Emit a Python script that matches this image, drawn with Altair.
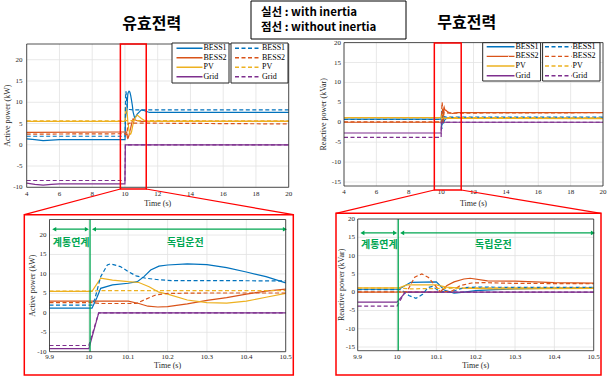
import altair as alt
import pandas as pd

# ---------------- data ----------------
SERIES = ["BESS1", "BESS2", "PV", "Grid"]
COLORS = ["#0072BD", "#D95319", "#EDB120", "#7E2F8E"]

X_TICKS_WIDE = [4, 6, 8, 10, 12, 14, 16, 18, 20]
X_LABELS_WIDE = ["4", "6", "8", "10", "12", "14", "16", "18", "20"]
X_TICKS_ZOOM = [9.9, 10.0, 10.1, 10.2, 10.3, 10.4, 10.5]
X_LABELS_ZOOM = ["9.9", "10", "10.1", "10.2", "10.3", "10.4", "10.5"]
Y_TICKS_P = [-10, -5, 0, 5, 10, 15, 20]
Y_LABELS_P = ["-10", "-5", "0", "5", "10", "15", "20"]
Y_TICKS_Q = [-15, -10, -5, 0, 5, 10, 15, 20]
Y_LABELS_Q = ["-15", "-10", "-5", "0", "5", "10", "15", "20"]

X_DOM_WIDE = [4, 20]
X_DOM_ZOOM = [9.9, 10.5]
Y_DOM_P_WIDE = [-10, 23.7]
Y_DOM_P_ZOOM = [-10, 24]
Y_DOM_Q = [-16, 20]

# Active power (kW) -- solid: with inertia, dashed: without inertia
p_bess1_t = [4, 4.5, 5, 5.5, 6, 9.9, 10.008, 10.02, 10.03, 10.06, 10.1, 10.123, 10.14, 10.157, 10.178,
             10.2, 10.25, 10.3, 10.35, 10.4, 10.45, 10.5, 10.6, 10.75, 11.0, 11.2, 11.5, 20]
p_bess1 = [1.4, 1.2, 1.0, 1.1, 1.2, 1.2, 1.2, 3.8, 6.3, 7.2, 7.6, 8.0, 9.3, 11.0, 12.0,
           12.3, 12.6, 12.4, 11.6, 10.5, 9.3, 7.7, 6.2, 7.2, 8.2, 8.0, 7.6, 7.6]
p_bess1_d_t = [4, 9.9, 10.008, 10.015, 10.03, 10.047, 10.055, 10.08, 10.1, 10.12, 10.144, 10.178, 10.21, 10.3, 10.5, 20]
p_bess1_d = [2.0, 2.0, 2.0, 3.5, 9.3, 12.3, 12.6, 11.9, 10.6, 9.5, 8.9, 8.5, 8.3, 8.3, 8.2, 8.2]
p_bess2_t = [4, 9.9, 10.1, 10.127, 10.15, 10.175, 10.2, 10.25, 10.3, 10.35, 10.4, 10.45, 10.5, 10.7, 11.0, 20]
p_bess2 = [2.9, 3.0, 3.0, 2.4, 1.7, 1.5, 1.6, 2.3, 3.2, 3.9, 4.8, 5.6, 6.1, 5.7, 5.5, 5.5]
p_bess2_d_t = [4, 9.9, 10.01, 10.03, 10.12, 10.17, 10.2, 10.3, 10.5, 20]
p_bess2_d = [2.5, 2.6, 2.6, 2.4, 2.4, 4.6, 5.0, 5.1, 5.1, 4.9]
p_pv_t = [4, 9.9, 10.008, 10.03, 10.06, 10.1, 10.127, 10.153, 10.178, 10.2, 10.25, 10.3, 10.35, 10.4, 10.45,
          10.5, 10.6, 10.75, 11.0, 11.3, 20]
p_pv = [5.5, 5.5, 5.5, 8.9, 8.4, 8.0, 7.8, 6.7, 5.3, 4.8, 3.3, 2.6, 2.5, 3.0, 4.0,
        5.0, 6.2, 7.0, 6.2, 5.5, 5.5]
p_pv_d_t = [4, 9.9, 10.01, 10.03, 10.5, 20]
p_pv_d = [5.6, 5.6, 5.6, 5.7, 5.7, 5.6]
p_grid_t = [4, 4.5, 5, 5.5, 6, 9.9, 10.0, 10.025, 10.5, 20]
p_grid = [-9.0, -9.3, -9.5, -9.3, -9.2, -9.2, -9.2, 0.0, 0.0, 0.0]
p_grid_d_t = [4, 9.9, 10.0, 10.025, 10.5, 20]
p_grid_d = [-8.4, -8.4, -8.4, 0.0, 0.0, 0.0]

# Reactive power (kVar)
q_bess1_t = [4, 9.9, 10.005, 10.035, 10.1, 10.12, 10.145, 10.17, 10.2, 10.25, 10.3, 10.4, 10.5, 11.0, 20]
q_bess1 = [0.8, 0.8, 0.8, 2.7, 2.8, 0.6, -0.3, 0.0, 0.4, 0.7, 0.9, 1.1, 1.2, 1.1, 1.0]
q_bess1_d_t = [4, 9.9, 10.01, 10.03, 10.048, 10.065, 10.078, 10.09, 10.11, 10.14, 10.17, 10.2, 10.3, 10.5, 20]
q_bess1_d = [0.7, 0.7, 0.7, -0.9, -1.7, -0.6, 1.2, 1.6, 0.1, 0.2, 1.2, 1.4, 1.3, 1.3, 1.3]
q_bess2_t = [4, 9.9, 10.11, 10.127, 10.145, 10.17, 10.186, 10.23, 10.3, 10.4, 10.5, 10.7, 11.0, 20]
q_bess2 = [0.0, 0.0, 0.1, 1.8, 2.8, 3.6, 3.8, 3.1, 3.0, 2.6, 2.45, 2.2, 2.4, 2.4]
q_bess2_d_t = [4, 9.9, 10.025, 10.045, 10.063, 10.08, 10.097, 10.11, 10.14, 10.16, 10.19, 10.22, 10.3, 10.5, 20]
q_bess2_d = [0.1, 0.1, 0.1, 4.1, 5.0, 4.0, 1.8, 0.1, 0.3, 1.8, 2.5, 2.6, 2.4, 2.3, 2.4]
q_pv_t = [4, 9.9, 10.005, 10.025, 10.1, 10.125, 10.16, 10.25, 10.5, 20]
q_pv = [1.2, 1.2, 1.2, 2.0, 2.0, 1.4, 1.1, 0.9, 1.0, 0.9]
q_pv_d_t = [4, 9.9, 10.01, 10.03, 10.1, 10.2, 10.5, 20]
q_pv_d = [1.1, 1.1, 1.1, 0.9, 1.0, 1.2, 1.2, 1.1]
q_grid_t = [4, 9.9, 10.0, 10.022, 10.5, 20]
q_grid = [-2.7, -2.7, -2.7, 0.0, 0.0, 0.0]
q_grid_d_t = [4, 9.9, 10.0, 10.02, 10.5, 20]
q_grid_d = [-3.8, -3.8, -3.8, 0.0, 0.0, 0.0]

PHASE_LABELS = ["계통연계", "독립운전"]

# ---------------- styling / layout ----------------
W, H = 610, 376
SERIF = "Liberation Serif"
KFONT = "Noto Sans CJK KR"
AXC = "#262626"
GRIDC = "#e2e2e2"
GREEN = "#00A651"
RED = "#FF0000"
cscale = alt.Scale(domain=SERIES, range=COLORS)
one = pd.DataFrame({"k": [0]})


def long_df(entries):
    rows = []
    for series, kind, ts, vs in entries:
        assert len(ts) == len(vs), series
        for t, v in zip(ts, vs):
            rows.append({"t": t, "v": v, "series": series, "kind": kind})
    return pd.DataFrame(rows)


P = long_df([
    ("BESS1", "solid", p_bess1_t, p_bess1), ("BESS2", "solid", p_bess2_t, p_bess2),
    ("PV", "solid", p_pv_t, p_pv), ("Grid", "solid", p_grid_t, p_grid),
    ("BESS1", "dashed", p_bess1_d_t, p_bess1_d), ("BESS2", "dashed", p_bess2_d_t, p_bess2_d),
    ("PV", "dashed", p_pv_d_t, p_pv_d), ("Grid", "dashed", p_grid_d_t, p_grid_d),
])
Q = long_df([
    ("BESS1", "solid", q_bess1_t, q_bess1), ("BESS2", "solid", q_bess2_t, q_bess2),
    ("PV", "solid", q_pv_t, q_pv), ("Grid", "solid", q_grid_t, q_grid),
    ("BESS1", "dashed", q_bess1_d_t, q_bess1_d), ("BESS2", "dashed", q_bess2_d_t, q_bess2_d),
    ("PV", "dashed", q_pv_d_t, q_pv_d), ("Grid", "dashed", q_grid_d_t, q_grid_d),
])


def panel(df, xdom, ydom, xr, yr, xticks, xlabels, yticks, ylabels, ytitle,
          ylab_x, ytitle_x, xlab_y, xtitle_y, zoombox=None, annot=None):
    xs = alt.Scale(domain=xdom, range=xr, nice=False, zero=False)
    ys = alt.Scale(domain=ydom, range=yr, nice=False, zero=False)
    d = df[(df["t"] >= xdom[0]) & (df["t"] <= xdom[1])]

    gx = alt.Chart(pd.DataFrame({"g": xticks})).mark_rule(color=GRIDC, strokeWidth=0.8).encode(
        x=alt.X("g:Q", scale=xs, axis=None),
        y=alt.YDatum(ydom[0], scale=ys, axis=None), y2=alt.Y2Datum(ydom[1]))
    gy = alt.Chart(pd.DataFrame({"g": yticks})).mark_rule(color=GRIDC, strokeWidth=0.8).encode(
        y=alt.Y("g:Q", scale=ys, axis=None),
        x=alt.XDatum(xdom[0], scale=xs, axis=None), x2=alt.X2Datum(xdom[1]))
    solid = alt.Chart(d[d["kind"] == "solid"]).mark_line(strokeWidth=1.2).encode(
        x=alt.X("t:Q", scale=xs, axis=None), y=alt.Y("v:Q", scale=ys, axis=None),
        color=alt.Color("series:N", scale=cscale, legend=None))
    dashed = alt.Chart(d[d["kind"] == "dashed"]).mark_line(strokeWidth=1.2, strokeDash=[4, 2.5]).encode(
        x=alt.X("t:Q", scale=xs, axis=None), y=alt.Y("v:Q", scale=ys, axis=None),
        color=alt.Color("series:N", scale=cscale, legend=None))
    frame = alt.Chart(one).mark_rect(fillOpacity=0, stroke=AXC, strokeWidth=0.8).encode(
        x=alt.XDatum(xdom[0], scale=xs, axis=None), x2=alt.X2Datum(xdom[1]),
        y=alt.YDatum(ydom[0], scale=ys, axis=None), y2=alt.Y2Datum(ydom[1]))

    # tick labels and axis titles
    xl = alt.Chart(pd.DataFrame({"g": xticks, "lbl": xlabels})).mark_text(
        font=SERIF, fontSize=7, baseline="middle", align="center", color=AXC).encode(
        x=alt.X("g:Q", scale=xs, axis=None), y=alt.value(xlab_y), text="lbl:N")
    yl = alt.Chart(pd.DataFrame({"g": yticks, "lbl": ylabels})).mark_text(
        font=SERIF, fontSize=7, baseline="middle", align="right", color=AXC).encode(
        y=alt.Y("g:Q", scale=ys, axis=None), x=alt.value(ylab_x), text="lbl:N")
    xt = alt.Chart(one).mark_text(font=SERIF, fontSize=8, baseline="middle", align="center",
                                  color=AXC).encode(
        x=alt.value((xr[0] + xr[1]) / 2), y=alt.value(xtitle_y), text=alt.value("Time (s)"))
    yt = alt.Chart(one).mark_text(font=SERIF, fontSize=8, baseline="middle", align="center",
                                  angle=270, color=AXC).encode(
        x=alt.value(ytitle_x), y=alt.value((yr[0] + yr[1]) / 2), text=alt.value(ytitle))

    layers = [gx, gy, solid, dashed]

    if annot is not None:
        yarrow, ytext = annot
        vline = alt.Chart(one).mark_rule(color=GREEN, strokeWidth=1.3).encode(
            x=alt.XDatum(10.003, scale=xs, axis=None),
            y=alt.YDatum(ydom[0], scale=ys, axis=None), y2=alt.Y2Datum(ydom[1]))
        spans = pd.DataFrame({"a": [9.912, 10.013], "b": [9.995, 10.498]})
        arrows = alt.Chart(spans).mark_rule(color=GREEN, strokeWidth=1.2).encode(
            x=alt.X("a:Q", scale=xs, axis=None), x2="b:Q",
            y=alt.YDatum(yarrow, scale=ys, axis=None))
        heads = pd.DataFrame({"t": [9.912, 9.995, 10.013, 10.498],
                              "s": ["triangle-left", "triangle-right", "triangle-left", "triangle-right"]})
        tips = alt.Chart(heads).mark_point(filled=True, color=GREEN, size=22, opacity=1).encode(
            x=alt.X("t:Q", scale=xs, axis=None), y=alt.YDatum(yarrow, scale=ys, axis=None),
            shape=alt.Shape("s:N", scale=None))
        labels = pd.DataFrame({"t": [9.955, 10.245], "label": PHASE_LABELS})
        txt = alt.Chart(labels).mark_text(font=KFONT, fontSize=10, fontWeight="bold", color=GREEN).encode(
            x=alt.X("t:Q", scale=xs, axis=None), y=alt.YDatum(ytext, scale=ys, axis=None),
            text="label:N")
        layers += [vline, arrows, tips, txt]

    layers += [frame, xl, yl, xt, yt]
    if zoombox is not None:
        t0, t1, ytop, ybot = zoombox
        box = alt.Chart(one).mark_rect(fillOpacity=0, stroke=RED, strokeWidth=1.5).encode(
            x=alt.XDatum(t0, scale=xs, axis=None), x2=alt.X2Datum(t1),
            y=alt.value(ytop), y2=alt.value(ybot))
        layers.append(box)
    return alt.layer(*layers)


UL = panel(P, X_DOM_WIDE, Y_DOM_P_WIDE, [26.7, 288.7], [187.3, 44], X_TICKS_WIDE, X_LABELS_WIDE,
           Y_TICKS_P, Y_LABELS_P, "Active power (kW)", 22.5, 7.5, 193.5, 203.5,
           zoombox=(9.72, 11.3, 44, 189))
UR = panel(Q, X_DOM_WIDE, Y_DOM_Q, [344, 603], [186, 42.6], X_TICKS_WIDE, X_LABELS_WIDE,
           Y_TICKS_Q, Y_LABELS_Q, "Reactive power (kVar)", 341, 323.5, 192, 203.5,
           zoombox=(9.58, 11.24, 43, 190))
LL = panel(P, X_DOM_ZOOM, Y_DOM_P_ZOOM, [49.5, 285.7], [351.7, 219.5], X_TICKS_ZOOM, X_LABELS_ZOOM,
           Y_TICKS_P, Y_LABELS_P, "Active power (kW)", 46.5, 32.7, 357, 366,
           annot=(21.5, 18))
LR = panel(Q, X_DOM_ZOOM, Y_DOM_Q, [357.7, 593.7], [350.7, 219], X_TICKS_ZOOM, X_LABELS_ZOOM,
           Y_TICKS_Q, Y_LABELS_Q, "Reactive power (kVar)", 355, 342, 356.5, 365.5,
           annot=(16.2, 13))


def legend_block(box1, box2, ybox, line1, text1, line2, text2, rows):
    dfl = pd.DataFrame({"series": SERIES})
    ysc = alt.Scale(type="point", domain=SERIES, range=list(rows), padding=0)
    parts = []
    for bx in (box1, box2):
        parts.append(alt.Chart(one).mark_rect(fill="white", stroke=AXC, strokeWidth=1).encode(
            x=alt.value(bx[0]), x2=alt.value(bx[1]), y=alt.value(ybox[0]), y2=alt.value(ybox[1])))
    for ln, tx, dash in ((line1, text1, [1, 0]), (line2, text2, [4, 2.5])):
        parts.append(alt.Chart(dfl).mark_rule(strokeWidth=1.4, strokeDash=dash).encode(
            x=alt.value(ln[0]), x2=alt.value(ln[1]),
            y=alt.Y("series:N", scale=ysc, axis=None),
            color=alt.Color("series:N", scale=cscale, legend=None)))
        parts.append(alt.Chart(dfl).mark_text(align="left", baseline="middle", font=SERIF,
                                              fontSize=8, color="black").encode(
            x=alt.value(tx), y=alt.Y("series:N", scale=ysc, axis=None), text="series:N"))
    return alt.layer(*parts)


LEG1 = legend_block((172, 229), (231, 288), (43, 83), (176.5, 202.5), 203.5, (235, 261), 262, (48.3, 76.7))
LEG2 = legend_block((482.7, 540.6), (542.6, 600), (42.7, 81), (486.7, 514.5), 515.5, (545, 571.5), 572.5,
                    (46.7, 75.7))

deco = []
deco.append(alt.Chart(one).mark_text(font=KFONT, fontSize=16, fontWeight="bold", align="center",
                                     baseline="middle", color="black").encode(
    x=alt.value(151.7), y=alt.value(23.5), text=alt.value("유효전력")))
deco.append(alt.Chart(one).mark_text(font=KFONT, fontSize=16, fontWeight="bold", align="center",
                                     baseline="middle", color="black").encode(
    x=alt.value(466.7), y=alt.value(23), text=alt.value("무효전력")))
deco.append(alt.Chart(one).mark_rect(fill="white", stroke="black", strokeWidth=1).encode(
    x=alt.value(251), x2=alt.value(406), y=alt.value(1), y2=alt.value(39)))
deco.append(alt.Chart(one).mark_text(font=KFONT, fontSize=11.5, fontWeight="bold", align="left",
                                     baseline="middle", color="black").encode(
    x=alt.value(261), y=alt.value(13), text=alt.value("실선 : with inertia")))
deco.append(alt.Chart(one).mark_text(font=KFONT, fontSize=11.5, fontWeight="bold", align="left",
                                     baseline="middle", color="black").encode(
    x=alt.value(261), y=alt.value(27.5), text=alt.value("점선 : without inertia")))
for (x0, x1, y0, y1) in ((24.3, 293.3, 214.7, 375), (336, 601, 213.3, 375)):
    deco.append(alt.Chart(one).mark_rect(fillOpacity=0, stroke=RED, strokeWidth=1.5).encode(
        x=alt.value(x0), x2=alt.value(x1), y=alt.value(y0), y2=alt.value(y1)))
for (xa, ya, xb, yb) in ((120.4, 189, 24.3, 214.7), (146.2, 189, 293.3, 214.7),
                         (434.3, 190, 336, 213.3), (461.2, 190, 601, 213.3)):
    deco.append(alt.Chart(one).mark_rule(color=RED, strokeWidth=1.2).encode(
        x=alt.value(xa), y=alt.value(ya), x2=alt.value(xb), y2=alt.value(yb)))
DECO = alt.layer(*deco)

chart = alt.layer(UL, UR, LL, LR, LEG1, LEG2, DECO).resolve_scale(
    x="independent", y="independent"
).properties(
    width=W, height=H, autosize=alt.AutoSizeParams(type="none"), padding=0, background="white"
).configure_view(stroke=None)

chart.save("out.html", embed_options={"renderer": "svg", "actions": False})
